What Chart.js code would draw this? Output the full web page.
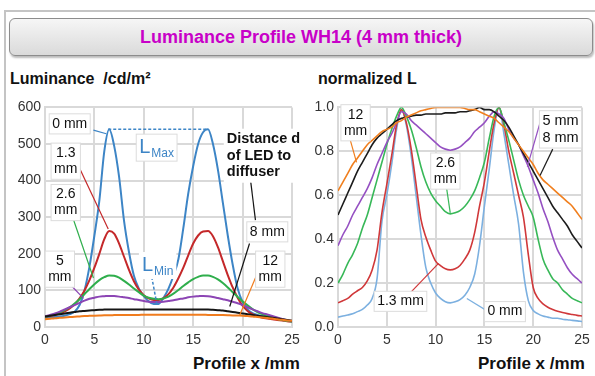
<!DOCTYPE html>
<html>
<head>
<meta charset="utf-8">
<script src="https://cdn.jsdelivr.net/npm/chart.js@4"></script>
<style>
  body { margin: 0; background: #fff; font-family: "Liberation Sans", Arial, sans-serif; }
  #pagina { position: relative; width: 595px; height: 376px; overflow: hidden; }
  #moldura { position: absolute; left: 4px; top: 10px; width: 600px; height: 380px; border-left: 2px solid #c4c4c4; border-top: 2px solid #c4c4c4; }
  #titulo { position: absolute; left: 9px; top: 18px; width: 582px; height: 36px; border: 1.5px solid #8c8c8c; border-radius: 6px;
            background: linear-gradient(#f6f6f6, #dadada); box-shadow: 1px 2px 2px #bbb;
            color: #c800c8; font-weight: bold; font-size: 18px; line-height: 36px; text-align: center; }
  .eixo { position: absolute; font-weight: bold; color: #111; white-space: nowrap; }
  canvas { position: absolute; }
</style>
</head>
<body>
<div id="pagina">
  <div id="moldura"></div>
  <div id="titulo">Luminance Profile WH14 (4 mm thick)</div>
  <div class="eixo" style="left:10px; top:70px; font-size:16px;">Luminance&nbsp;&nbsp;/cd/m²</div>
  <div class="eixo" style="left:318px; top:70px; font-size:16px;">normalized L</div>
  <div class="eixo" style="left:193px; top:354px; font-size:17px;">Profile x /mm</div>
  <div class="eixo" style="left:478px; top:354px; font-size:17px;">Profile x /mm</div>
  <canvas id="graficoAbs" width="305" height="256" style="left:0px; top:95px;"></canvas>
  <canvas id="graficoNorm" width="300" height="256" style="left:295px; top:95px;"></canvas>
</div>
<script>
// posicao x do perfil (mm)
const perfilX = [0, 0.5, 1, 1.5, 2, 2.5, 3, 3.5, 4, 4.5, 5, 5.5, 6, 6.5, 7, 7.5, 8, 8.5, 9, 9.5,
  10, 10.5, 11, 11.5, 12, 12.5, 13, 13.5, 14, 14.5, 15, 15.5, 16, 16.5, 17, 17.5, 18, 18.5, 19, 19.5,
  20, 20.5, 21, 21.5, 22, 22.5, 23, 23.5, 24, 24.5, 25];

// luminancia absoluta cd/m² (grafico da esquerda)
const lum0mm = [25, 26, 27, 29, 31, 35, 42, 60, 100, 165, 250, 345, 480, 540, 495, 410, 290, 205, 140, 105,
  84, 70, 63, 63, 80, 105, 140, 185, 270, 365, 440, 500, 532, 540, 500, 430, 340, 250, 170, 105,
  68, 48, 38, 33, 30, 28, 26, 23, 20, 17, 15];
const lum13mm = [28, 30, 33, 37, 43, 51, 62, 78, 100, 128, 162, 200, 240, 262, 255, 228, 192, 156, 125, 102,
  87, 78, 74, 74, 79, 90, 108, 133, 162, 196, 228, 250, 261, 262, 248, 218, 180, 142, 108, 80,
  58, 44, 35, 29, 25, 23, 21, 19, 18, 16, 15];
const lum26mm = [28, 31, 35, 40, 46, 54, 64, 76, 90, 104, 117, 128, 136, 141, 140, 135, 126, 116, 105, 95,
  86, 80, 77, 76, 78, 83, 91, 101, 112, 122, 131, 137, 141, 141, 137, 130, 120, 108, 95, 82,
  70, 59, 49, 41, 35, 30, 26, 22, 19, 17, 15];
const lum5mm = [29, 33, 37, 42, 48, 54, 60, 66, 72, 77, 80, 83, 84, 85, 84.5, 83, 81, 79, 76, 74,
  71, 69, 68, 68, 69, 71, 73, 76, 78, 81, 83, 84, 85, 84, 82, 79, 76, 73, 69, 65,
  60, 54, 48, 43, 38, 34, 30, 26, 22, 19, 16];
const lum8mm = [29, 31, 33, 35, 37, 39, 41, 43, 44, 45, 46, 47, 47.5, 48, 48, 48, 48, 48, 48, 48,
  48, 48, 48, 48, 48, 48, 48, 48, 48, 48, 48, 48, 48, 48, 47, 46, 45, 43, 41, 39,
  37, 35, 33, 31, 29, 27, 25, 23, 21, 19, 17];
const lum12mm = [21, 22.5, 24, 25, 26, 27, 28, 29, 30, 30.5, 31, 31.5, 32, 32, 32.5, 33, 33, 33, 33, 33,
  33.5, 33.5, 33.5, 33.5, 33.5, 33.5, 33.5, 33.5, 33.5, 33.5, 33.5, 33.5, 33.5, 33, 33, 33, 32.5, 32, 31.5, 31.2,
  31, 30, 29, 27.5, 26, 24.5, 23, 21, 19.5, 18, 17];

// luminancia normalizada (grafico da direita)
const norm0mm = [0.045, 0.05, 0.055, 0.06, 0.07, 0.08, 0.10, 0.13, 0.22, 0.48, 0.60, 0.74, 0.90, 0.99, 0.92, 0.78, 0.60, 0.42, 0.27, 0.20,
  0.155, 0.13, 0.115, 0.11, 0.115, 0.125, 0.145, 0.18, 0.24, 0.37, 0.55, 0.72, 0.90, 1.0, 0.88, 0.74, 0.60, 0.47, 0.25, 0.12,
  0.075, 0.06, 0.05, 0.045, 0.04, 0.04, 0.035, 0.033, 0.03, 0.028, 0.025];
const norm13mm = [0.11, 0.12, 0.13, 0.15, 0.165, 0.18, 0.21, 0.26, 0.35, 0.52, 0.65, 0.78, 0.92, 0.99, 0.93, 0.81, 0.65, 0.49, 0.41, 0.35,
  0.30, 0.28, 0.265, 0.26, 0.265, 0.28, 0.31, 0.35, 0.43, 0.55, 0.66, 0.80, 0.93, 1.0, 0.92, 0.80, 0.70, 0.60, 0.50, 0.33,
  0.18, 0.13, 0.105, 0.09, 0.08, 0.072, 0.066, 0.061, 0.057, 0.053, 0.05];
const norm26mm = [0.20, 0.24, 0.29, 0.33, 0.38, 0.45, 0.51, 0.59, 0.67, 0.75, 0.83, 0.90, 0.96, 1.0, 0.96, 0.90, 0.82, 0.73, 0.66, 0.61,
  0.575, 0.55, 0.525, 0.515, 0.52, 0.53, 0.55, 0.58, 0.62, 0.68, 0.75, 0.86, 0.96, 1.0, 0.93, 0.85, 0.76, 0.67, 0.60, 0.55,
  0.50, 0.40, 0.31, 0.26, 0.22, 0.20, 0.17, 0.15, 0.13, 0.12, 0.11];
const norm5mm = [0.37, 0.42, 0.46, 0.51, 0.55, 0.59, 0.63, 0.68, 0.74, 0.79, 0.84, 0.88, 0.93, 0.98, 0.97, 0.94, 0.92, 0.90, 0.88, 0.86,
  0.84, 0.82, 0.81, 0.805, 0.81, 0.82, 0.84, 0.86, 0.89, 0.91, 0.93, 0.96, 0.98, 0.97, 0.95, 0.90, 0.86, 0.83, 0.78, 0.73,
  0.67, 0.61, 0.54, 0.48, 0.41, 0.35, 0.31, 0.27, 0.24, 0.22, 0.20];
const norm8mm = [0.51, 0.56, 0.61, 0.66, 0.71, 0.75, 0.79, 0.83, 0.86, 0.88, 0.90, 0.92, 0.94, 0.95, 0.955, 0.96, 0.965, 0.965, 0.97, 0.97,
  0.97, 0.97, 0.975, 0.975, 0.975, 0.98, 0.98, 0.985, 0.99, 1.0, 0.99, 0.99, 0.98, 0.96, 0.94, 0.91, 0.87, 0.83, 0.79, 0.75,
  0.71, 0.67, 0.63, 0.59, 0.55, 0.52, 0.49, 0.46, 0.42, 0.39, 0.36];
const norm12mm = [0.62, 0.66, 0.70, 0.74, 0.77, 0.80, 0.83, 0.85, 0.87, 0.89, 0.90, 0.91, 0.93, 0.94, 0.955, 0.965, 0.975, 0.985, 0.99, 0.995,
  1.0, 1.0, 1.0, 1.0, 1.0, 1.0, 0.995, 0.99, 0.99, 0.98, 0.97, 0.96, 0.95, 0.93, 0.91, 0.89, 0.86, 0.83, 0.80, 0.77,
  0.74, 0.70, 0.67, 0.65, 0.63, 0.61, 0.59, 0.57, 0.55, 0.52, 0.49];

const ticksX = [0, 5, 10, 15, 20, 25];
const ticksAbs = [0, 100, 200, 300, 400, 500, 600];
const ticksNorm = [0, 0.2, 0.4, 0.6, 0.8, 1.0];

const fonte = '"Liberation Sans", Arial, sans-serif';

// monta os pontos {x, y} a partir dos arrays
function pontos(valores) {
  return perfilX.map((x, i) => ({ x: x, y: valores[i] }));
}

function serie(valores, cor, largura) {
  return {
    data: pontos(valores),
    borderColor: cor,
    borderWidth: largura,
    pointRadius: 0,
    tension: 0.35,
    cubicInterpolationMode: 'monotone',
    fill: false
  };
}

// plugin que desenha os rotulos e as linhas de chamada em coordenadas dos dados
const notasPlugin = {
  id: 'notas',
  afterDatasetsDraw(chart, args, opts) {
    const ctx = chart.ctx;
    const px = v => chart.scales.x.getPixelForValue(v);
    const py = v => chart.scales.y.getPixelForValue(v);
    ctx.save();

    (opts.linhas || []).forEach(l => {
      ctx.strokeStyle = l.cor;
      ctx.lineWidth = l.largura || 1.2;
      ctx.setLineDash(l.tracejado || []);
      ctx.beginPath();
      ctx.moveTo(px(l.de[0]), py(l.de[1]));
      ctx.lineTo(px(l.ate[0]), py(l.ate[1]));
      ctx.stroke();
    });
    ctx.setLineDash([]);

    (opts.rotulos || []).forEach(r => {
      const tam = r.tamanho || 14;
      const alt = tam * 1.15;
      ctx.font = (r.negrito ? 'bold ' : '') + tam + 'px ' + fonte;
      let larg = 0;
      if (r.sub) {
        ctx.font = tam + 'px ' + fonte;
        const wL = ctx.measureText(r.textos[0]).width;
        ctx.font = (tam * 0.6) + 'px ' + fonte;
        larg = wL + ctx.measureText(r.sub).width + 1;
      } else {
        r.textos.forEach(t => { larg = Math.max(larg, ctx.measureText(t).width); });
      }
      const h = alt * r.textos.length;
      const cx = px(r.x), cy = py(r.y);
      const esq = r.alinhar === 'left' ? cx : cx - larg / 2;
      const topo = cy - h / 2;

      ctx.fillStyle = '#fff';
      ctx.fillRect(esq - 3, topo - 2, larg + 6, h + 4);
      if (r.borda !== false) {
        ctx.strokeStyle = '#dcdcdc';
        ctx.lineWidth = 1;
        ctx.strokeRect(esq - 3, topo - 2, larg + 6, h + 4);
      }

      ctx.fillStyle = r.cor || '#111';
      ctx.textBaseline = 'middle';
      ctx.textAlign = 'left';
      if (r.sub) {
        ctx.font = tam + 'px ' + fonte;
        ctx.fillText(r.textos[0], esq, cy);
        const wL = ctx.measureText(r.textos[0]).width;
        ctx.font = (tam * 0.6) + 'px ' + fonte;
        ctx.fillText(r.sub, esq + wL + 1, cy + tam * 0.3);
      } else {
        ctx.font = (r.negrito ? 'bold ' : '') + tam + 'px ' + fonte;
        r.textos.forEach((t, i) => {
          const w = ctx.measureText(t).width;
          const xt = r.alinhar === 'left' ? esq : cx - w / 2;
          ctx.fillText(t, xt, topo + alt * (i + 0.5));
        });
      }
    });
    ctx.restore();
  }
};

Chart.register(notasPlugin);

function opcoes(yMax, ticksY, larguraY, formatoY, notas) {
  const grade = { color: '#d9d9d9', lineWidth: 2, drawTicks: false };
  return {
    responsive: false,
    animation: false,
    layout: { padding: { top: 8, right: 13, left: 0, bottom: 0 } },
    plugins: { legend: { display: false }, tooltip: { enabled: false }, notas: notas },
    scales: {
      x: {
        type: 'linear', min: 0, max: 25,
        afterBuildTicks: s => { s.ticks = ticksX.map(v => ({ value: v })); },
        afterFit: s => { s.height = 24; },
        grid: grade,
        border: { color: '#d9d9d9', width: 2 },
        ticks: { color: '#333', font: { size: 14, family: fonte }, padding: 5, maxRotation: 0 }
      },
      y: {
        min: 0, max: yMax,
        afterBuildTicks: s => { s.ticks = ticksY.map(v => ({ value: v })); },
        afterFit: s => { s.width = larguraY; },
        grid: grade,
        border: { color: '#d9d9d9', width: 2 },
        ticks: { color: '#333', font: { size: 14, family: fonte }, padding: 4, callback: formatoY }
      }
    }
  };
}

const azul = '#3d85c6', vermelho = '#c4282a', verde = '#2fae4c', roxo = '#8c45b4', preto = '#151515', laranja = '#f07c1e';

new Chart(document.getElementById('graficoAbs'), {
  type: 'line',
  data: {
    datasets: [
      serie(lum12mm, laranja, 2),
      serie(lum8mm, preto, 2),
      serie(lum5mm, roxo, 2),
      serie(lum26mm, verde, 2),
      serie(lum13mm, vermelho, 2),
      serie(lum0mm, azul, 2)
    ]
  },
  options: opcoes(600, ticksAbs, 45, v => v, {
    linhas: [
      { de: [4.9, 538], ate: [6.2, 528], cor: azul },
      { de: [6.4, 540], ate: [16.5, 540], cor: azul, tracejado: [3, 2], largura: 1.5 },
      { de: [3.5, 434], ate: [6.4, 268], cor: vermelho },
      { de: [2.8, 300], ate: [4.9, 134], cor: verde },
      { de: [2.7, 112], ate: [3.9, 78], cor: roxo },
      { de: [10.8, 137], ate: [11.3, 66], cor: azul, tracejado: [3, 2], largura: 1.5 },
      { de: [20.7, 424], ate: [21.3, 292], cor: preto },
      { de: [20.7, 228], ate: [18.7, 56], cor: preto },
      { de: [21.5, 147], ate: [19.7, 32], cor: laranja }
    ],
    rotulos: [
      { x: 2.5, y: 555, textos: ['0 mm'] },
      { x: 2.1, y: 453, textos: ['1.3', 'mm'] },
      { x: 2.1, y: 340, textos: ['2.6', 'mm'] },
      { x: 1.5, y: 158, textos: ['5', 'mm'] },
      { x: 11.3, y: 490, textos: ['L'], sub: 'Max', cor: azul, tamanho: 20 },
      { x: 11.4, y: 168, textos: ['L'], sub: 'Min', cor: azul, tamanho: 20, borda: false },
      { x: 18.4, y: 468, textos: ['Distance d', 'of LED to', 'diffuser'], negrito: true, alinhar: 'left', borda: false, tamanho: 14.5 },
      { x: 22.5, y: 260, textos: ['8 mm'] },
      { x: 22.8, y: 158, textos: ['12', 'mm'] }
    ]
  })
});

const azulN = '#7cb0e0', vermelhoN = '#d0383a', verdeN = '#38b858', roxoN = '#9550c2', pretoN = '#1c1c1c', laranjaN = '#f07f1e';

new Chart(document.getElementById('graficoNorm'), {
  type: 'line',
  data: {
    datasets: [
      serie(norm12mm, laranjaN, 1.6),
      serie(norm8mm, pretoN, 1.6),
      serie(norm5mm, roxoN, 1.6),
      serie(norm26mm, verdeN, 1.6),
      serie(norm13mm, vermelhoN, 1.6),
      serie(norm0mm, azulN, 1.6)
    ]
  },
  options: opcoes(1, ticksNorm, 43, v => v.toFixed(1), {
    linhas: [
      { de: [1.2, 0.86], ate: [1.9, 0.75], cor: laranjaN },
      { de: [11.1, 0.64], ate: [11.5, 0.52], cor: verdeN },
      { de: [20.7, 0.93], ate: [19.4, 0.73], cor: roxoN },
      { de: [22.0, 0.81], ate: [20.7, 0.69], cor: pretoN },
      { de: [7.5, 0.16], ate: [10.3, 0.29], cor: vermelhoN },
      { de: [15.4, 0.07], ate: [13.2, 0.13], cor: azulN }
    ],
    rotulos: [
      { x: 1.8, y: 0.93, textos: ['12', 'mm'] },
      { x: 11.0, y: 0.71, textos: ['2.6', 'mm'] },
      { x: 22.8, y: 0.9, textos: ['5 mm', '8 mm'], tamanho: 14.5 },
      { x: 6.4, y: 0.117, textos: ['1.3 mm'] },
      { x: 17.1, y: 0.07, textos: ['0 mm'] }
    ]
  })
});
</script>
</body>
</html>
